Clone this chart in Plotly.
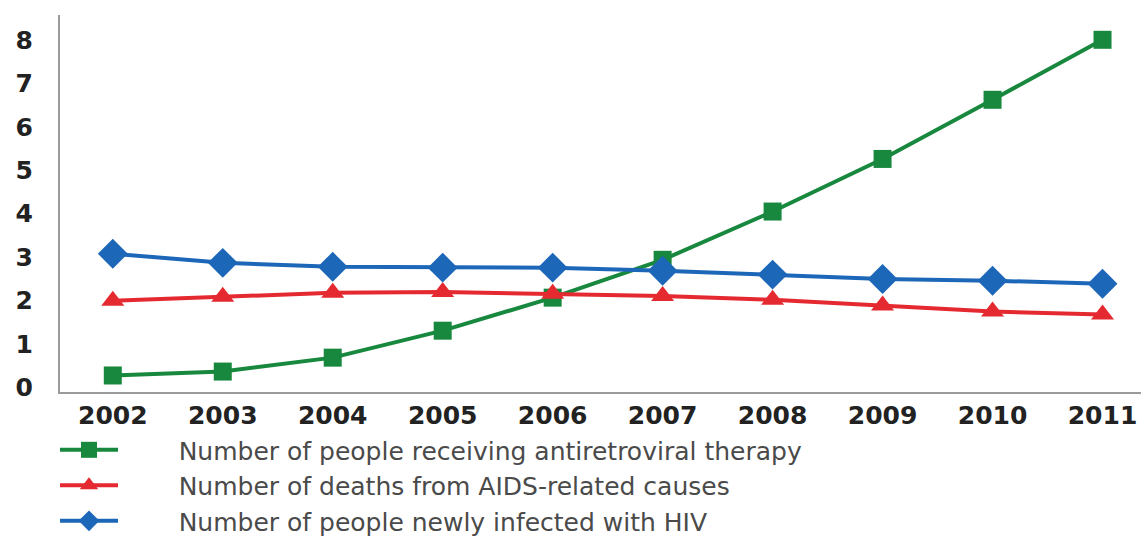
import plotly.graph_objects as go

years = [2002, 2003, 2004, 2005, 2006, 2007, 2008, 2009, 2010, 2011]
on_art = [0.28, 0.37, 0.69, 1.31, 2.07, 2.94, 4.05, 5.26, 6.62, 8.0]
aids_deaths = [2.0, 2.09, 2.18, 2.2, 2.16, 2.11, 2.02, 1.89, 1.75, 1.68]
new_infections = [3.08, 2.87, 2.78, 2.76, 2.76, 2.69, 2.6, 2.5, 2.46, 2.39]

series_names = [
    "Number of people receiving antiretroviral therapy",
    "Number of deaths from AIDS-related causes",
    "Number of people newly infected with HIV",
]
y_ticks = [0, 1, 2, 3, 4, 5, 6, 7, 8]

GREEN = "#17883d"
RED = "#e42a30"
BLUE = "#1d67b9"

# gap between the short legend sample line and its label
LEGEND_PAD = "\u00a0" * 7

fig = go.Figure()
fig.add_trace(go.Scatter(
    x=years, y=on_art, name=LEGEND_PAD + series_names[0], mode="lines+markers",
    line=dict(color=GREEN, width=4),
    marker=dict(symbol="square", size=18, color=GREEN),
))
fig.add_trace(go.Scatter(
    x=years, y=aids_deaths, name=LEGEND_PAD + series_names[1], mode="lines+markers",
    line=dict(color=RED, width=4),
    marker=dict(symbol="triangle-up", size=20, color=RED),
))
fig.add_trace(go.Scatter(
    x=years, y=new_infections, name=LEGEND_PAD + series_names[2], mode="lines+markers",
    line=dict(color=BLUE, width=4),
    marker=dict(symbol="diamond", size=23, color=BLUE),
))

tick_font = dict(family="DejaVu Sans", size=25, color="#222222", weight="bold")

fig.update_layout(
    width=1141, height=537,
    margin=dict(l=60, r=0, t=15, b=145, autoexpand=False),
    paper_bgcolor="white", plot_bgcolor="white",
    showlegend=True,
    legend=dict(
        x=-5 / 1081, xanchor="left",
        y=-0.093, yanchor="top",
        font=dict(family="DejaVu Sans", size=25, color="#4a4a4a"),
        itemwidth=58, tracegroupgap=0,
        bgcolor="rgba(0,0,0,0)",
    ),
    xaxis=dict(
        range=[2001.52, 2011.35],
        tickvals=years, ticktext=[str(y) for y in years],
        showgrid=False, zeroline=False,
        showline=True, linecolor="#9a9a9a", linewidth=2,
        ticks="", tickfont=tick_font,
    ),
    yaxis=dict(
        range=[-0.1, 8.57],
        tickvals=y_ticks,
        showgrid=False, zeroline=False,
        showline=True, linecolor="#9a9a9a", linewidth=2,
        ticks="", tickfont=tick_font, ticklabelstandoff=20,
    ),
)

fig.write_html("out.html")
